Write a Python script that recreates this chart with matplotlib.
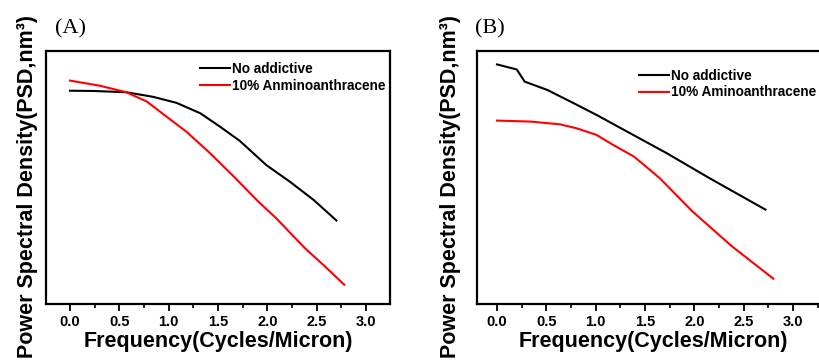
import numpy as np
import matplotlib
matplotlib.use("Agg")
import matplotlib.pyplot as plt
from matplotlib.ticker import MultipleLocator

# values (y axis is arbitrary, unlabeled)
freq_a_none = [0.0, 0.24, 0.57, 0.84, 1.08, 1.32, 1.52, 1.72, 1.99, 2.23, 2.47, 2.70]
psd_a_none = [8.43, 8.42, 8.37, 8.19, 7.95, 7.54, 7.01, 6.45, 5.49, 4.83, 4.11, 3.30]
freq_a_amino = [0.0, 0.30, 0.57, 0.78, 0.98, 1.18, 1.42, 1.67, 1.90, 2.09, 2.38, 2.58, 2.78]
psd_a_amino = [8.83, 8.63, 8.37, 8.00, 7.40, 6.81, 5.96, 5.00, 4.08, 3.39, 2.21, 1.50, 0.76]

freq_b_none = [0.0, 0.20, 0.28, 0.51, 0.78, 1.01, 1.32, 1.72, 2.15, 2.72]
psd_b_none = [9.47, 9.27, 8.79, 8.46, 7.93, 7.47, 6.81, 5.96, 4.98, 3.73]
freq_b_amino = [0.0, 0.34, 0.64, 0.81, 1.01, 1.18, 1.39, 1.65, 1.98, 2.38, 2.80]
psd_b_amino = [7.25, 7.21, 7.10, 6.94, 6.68, 6.28, 5.82, 4.97, 3.66, 2.28, 1.00]

labels_a = ["No addictive", "10% Anminoanthracene"]
labels_b = ["No addictive", "10% Aminoanthracene"]
xticks = [0.0, 0.5, 1.0, 1.5, 2.0, 2.5, 3.0]
ylabel = "Power Spectral Density(PSD,nm³)"
xlabel = "Frequency(Cycles/Micron)"

plt.rcParams['font.family'] = ['Liberation Sans', 'DejaVu Sans']
plt.rcParams['font.weight'] = 'bold'

W, H = 819, 362
fig = plt.figure(figsize=(W / 100, H / 100), dpi=100)

def px(x0, y0, x1, y1):
    return [x0 / W, 1 - y1 / H, (x1 - x0) / W, (y1 - y0) / H]

def setup(ax, xlim):
    ax.set_xlim(*xlim)
    ax.set_ylim(0, 10)
    ax.set_xticks(xticks)
    ax.set_xticklabels([f"{t:.1f}" for t in xticks], fontsize=10.5, fontweight='bold')
    ax.xaxis.set_minor_locator(MultipleLocator(0.25))
    ax.tick_params(axis='x', which='major', direction='out', length=5, width=1.3, pad=3)
    ax.tick_params(axis='x', which='minor', direction='out', length=3, width=1.2)
    ax.set_yticks([])
    for s in ax.spines.values():
        s.set_linewidth(1.6)
    ax.set_xlabel(xlabel, fontsize=15.5, fontweight='bold', labelpad=1)

leg_kw = dict(loc='center left', frameon=False, fontsize=9.8, handlelength=2.2,
              handletextpad=0.15, labelspacing=0.2, borderpad=0, borderaxespad=0)

# panel A
ax1 = fig.add_axes(px(46, 51, 390, 304))
ax1.plot(freq_a_none, psd_a_none, color='black', lw=1.5, label=labels_a[0])
ax1.plot(freq_a_amino, psd_a_amino, color='red', lw=1.5, label=labels_a[1])
setup(ax1, (-0.243, 3.243))
ax1.legend(bbox_to_anchor=((200 - 46) / 344, (304 - 77.5) / 253), **leg_kw)
fig.text(28 / W, 1 - 187 / H, ylabel, rotation=90, ha='center', va='center',
         fontsize=15.5, fontweight='bold')
fig.text(71 / W, 1 - 29 / H, "(A)", ha='center', va='center', fontsize=16,
         family='Liberation Serif', fontweight='normal')

# panel B (right edge runs off the picture)
ax2 = fig.add_axes(px(477, 51, 830, 304))
ax2.plot(freq_b_none, psd_b_none, color='black', lw=1.5, label=labels_b[0])
ax2.plot(freq_b_amino, psd_b_amino, color='red', lw=1.5, label=labels_b[1])
setup(ax2, (-0.203, 3.374))
ax2.legend(bbox_to_anchor=((639 - 477) / 353, (304 - 84) / 253), **leg_kw)
fig.text(450 / W, 1 - 187 / H, ylabel, rotation=90, ha='center', va='center',
         fontsize=15.5, fontweight='bold')
fig.text(490 / W, 1 - 29 / H, "(B)", ha='center', va='center', fontsize=16,
         family='Liberation Serif', fontweight='normal')

fig.savefig("out.png", dpi=100)
